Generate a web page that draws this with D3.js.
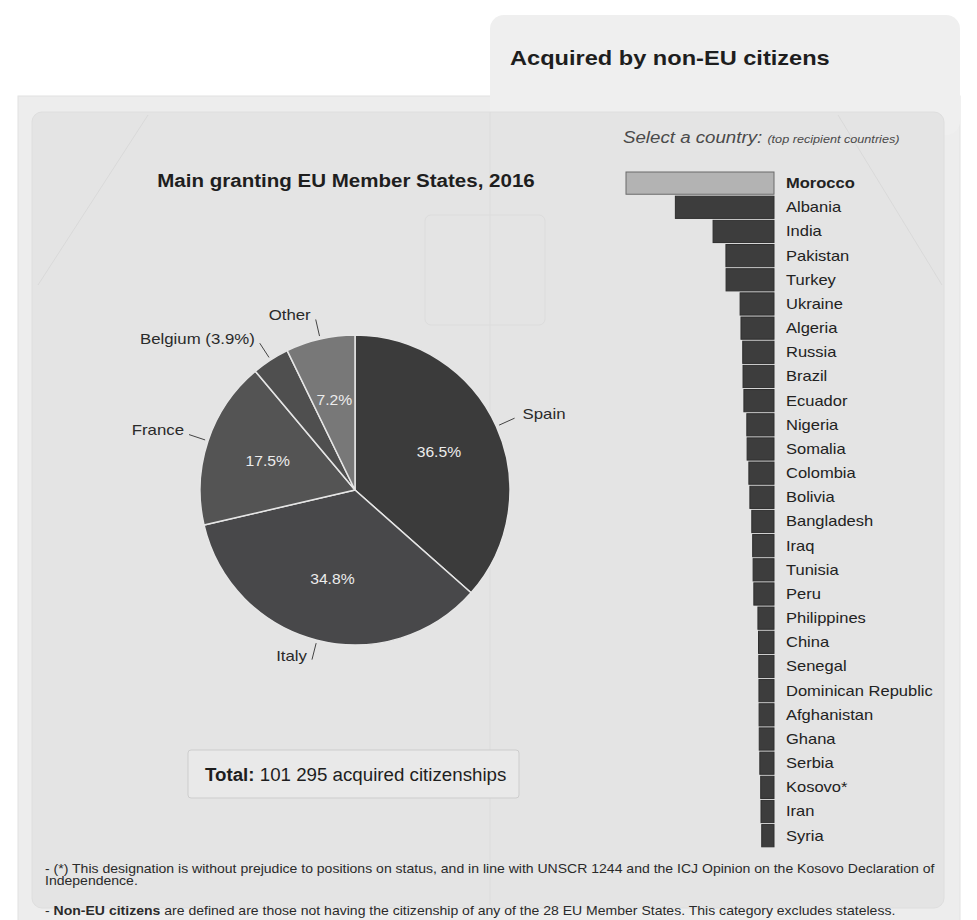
<!DOCTYPE html>
<html>
<head>
<meta charset="utf-8">
<script src="https://cdn.jsdelivr.net/npm/d3@7/dist/d3.min.js"></script>
<style>
  html, body { margin: 0; padding: 0; background: #ffffff; }
  svg { display: block; font-family: "Liberation Sans", Arial, Helvetica, sans-serif; }
</style>
</head>
<body>
<svg id="chart" width="977" height="920"></svg>
<script>
// Main granting EU Member States, 2016 (share of citizenships acquired, %)
const states = ["Spain", "Italy", "France", "Belgium", "Other"];
const stateShares = [36.5, 34.8, 17.5, 3.9, 7.2];
const stateOuterLabels = ["Spain", "Italy", "France", "Belgium (3.9%)", "Other"];
const stateInnerLabels = ["36.5%", "34.8%", "17.5%", "", "7.2%"];

// Top recipient countries (citizenships acquired, 2016)
const countries = ["Morocco", "Albania", "India", "Pakistan", "Turkey", "Ukraine", "Algeria",
  "Russia", "Brazil", "Ecuador", "Nigeria", "Somalia", "Colombia", "Bolivia", "Bangladesh",
  "Iraq", "Tunisia", "Peru", "Philippines", "China", "Senegal", "Dominican Republic",
  "Afghanistan", "Ghana", "Serbia", "Kosovo*", "Iran", "Syria"];
const acquired = [101295, 67500, 41700, 32900, 32800, 23200, 22600, 21400, 21200, 20600,
  18600, 18400, 17200, 16500, 15200, 14600, 14300, 13800, 11000, 10600, 10400, 10300,
  10200, 10100, 9700, 9100, 8900, 8400];
const selectedCountry = "Morocco";
const totalAcquired = "101 295";

// the typeface used here is set a little wider than Liberation Sans
const WIDE = 1.17;
const at = (x, y, s = WIDE) => `translate(${x},${y}) scale(${s},1)`;

const svg = d3.select("#chart");

// ---- page frame: tab, outer panel, inner panel ----
svg.append("rect").attr("x", 18).attr("y", 96).attr("width", 942).attr("height", 840)
  .attr("fill", "#ededed").attr("stroke", "#e2e2e2");
svg.append("rect").attr("x", 490).attr("y", 15).attr("width", 470).attr("height", 120)
  .attr("rx", 14).attr("fill", "#efefef");
svg.append("rect").attr("x", 32).attr("y", 112).attr("width", 912).attr("height", 796)
  .attr("rx", 10).attr("fill", "#e4e4e4").attr("stroke", "#dedede");

// faint background strokes
const deco = svg.append("g").attr("stroke", "#d9d9d9").attr("stroke-width", 1).attr("fill", "none");
deco.append("line").attr("x1", 148).attr("y1", 115).attr("x2", 38).attr("y2", 285);
deco.append("line").attr("x1", 838).attr("y1", 115).attr("x2", 942).attr("y2", 285);
deco.append("line").attr("x1", 490).attr("y1", 112).attr("x2", 490).attr("y2", 905).attr("stroke", "#dcdcdc");
deco.append("rect").attr("x", 425).attr("y", 215).attr("width", 120).attr("height", 110).attr("rx", 6)
  .attr("stroke", "#dcdcdc");

svg.append("text").attr("transform", at(510, 65, 1.18))
  .attr("font-size", 20).attr("font-weight", "bold").attr("fill", "#1e1e1e")
  .text("Acquired by non-EU citizens");

// ---- pie ----
svg.append("text").attr("transform", at(346, 187, 1.11)).attr("text-anchor", "middle")
  .attr("font-size", 18.5).attr("font-weight", "bold").attr("fill", "#1e1e1e")
  .text("Main granting EU Member States, 2016");

const cx = 355, cy = 490, R = 155;
const sliceColor = d3.scaleOrdinal().domain(states)
  .range(["#3b3b3b", "#48484a", "#545454", "#4f4f4f", "#787878"]);
const pieData = d3.pie().sort(null).value(d => d.v)(
  states.map((s, i) => ({ s, v: stateShares[i], out: stateOuterLabels[i], inn: stateInnerLabels[i] })));
const arc = d3.arc().innerRadius(0).outerRadius(R);
const pieG = svg.append("g").attr("transform", `translate(${cx},${cy})`);
pieG.selectAll("path.slice").data(pieData).join("path").attr("class", "slice")
  .attr("d", arc).attr("fill", d => sliceColor(d.data.s))
  .attr("stroke", "#e6e6e6").attr("stroke-width", 1.5);

const mid = d => (d.startAngle + d.endAngle) / 2;
const polar = (a, r) => [Math.sin(a) * r, -Math.cos(a) * r];

pieG.selectAll("text.inner").data(pieData.filter(d => d.data.inn)).join("text")
  .attr("class", "inner")
  .attr("transform", d => { const p = polar(mid(d), 92); return at(p[0], p[1], 1.12); })
  .attr("dy", "0.35em").attr("text-anchor", "middle")
  .attr("font-size", 14).attr("fill", "#ececec").text(d => d.data.inn);

pieG.selectAll("line.conn").data(pieData).join("line").attr("class", "conn")
  .attr("x1", d => polar(mid(d), R + 3)[0]).attr("y1", d => polar(mid(d), R + 3)[1])
  .attr("x2", d => polar(mid(d), R + 20)[0]).attr("y2", d => polar(mid(d), R + 20)[1])
  .attr("stroke", "#444").attr("stroke-width", 1);

pieG.selectAll("text.outer").data(pieData).join("text").attr("class", "outer")
  .attr("transform", d => {
    const p = polar(mid(d), R + 20);
    return at(mid(d) < Math.PI ? p[0] + 8 : p[0] - 5, p[1] - 4, 1.2);
  })
  .attr("dy", "0.35em")
  .attr("text-anchor", d => mid(d) < Math.PI ? "start" : "end")
  .attr("font-size", 14).attr("fill", "#2a2a2a").text(d => d.data.out);

// ---- total box ----
svg.append("rect").attr("x", 188).attr("y", 750).attr("width", 331).attr("height", 48)
  .attr("rx", 3).attr("fill", "#e9e9e9").attr("stroke", "#cdcdcd");
const tot = svg.append("text").attr("transform", at(205, 781, 1.04))
  .attr("font-size", 18).attr("fill", "#1e1e1e");
tot.append("tspan").attr("font-weight", "bold").text("Total:");
tot.append("tspan").text(` ${totalAcquired} acquired citizenships`);

// ---- bar list ----
const sel = svg.append("text").attr("transform", at(623, 143, 1.1))
  .attr("fill", "#4a4a4a").attr("font-style", "italic");
sel.append("tspan").attr("font-size", 17).text("Select a country: ");
sel.append("tspan").attr("font-size", 11.5).text("(top recipient countries)");

const barRight = 774;
const x = d3.scaleLinear().domain([0, d3.max(acquired)]).range([0, 148]);
const y = d3.scaleBand().domain(countries).range([172, 172 + 24.1 * countries.length]).paddingInner(0.08);
const rows = countries.map((c, i) => ({ c, v: acquired[i] }));

svg.append("g").selectAll("rect").data(rows).join("rect")
  .attr("x", d => barRight - x(d.v)).attr("y", d => y(d.c))
  .attr("width", d => x(d.v)).attr("height", y.bandwidth())
  .attr("fill", d => d.c === selectedCountry ? "#b3b3b3" : "#3d3d3d")
  .attr("stroke", d => d.c === selectedCountry ? "#6a6a6a" : "#2e2e2e").attr("stroke-width", 1);

svg.append("g").selectAll("text").data(rows).join("text")
  .attr("transform", d => at(786, y(d.c) + y.bandwidth() / 2, 1.18))
  .attr("dy", "0.35em")
  .attr("font-size", 14).attr("fill", "#222")
  .attr("font-weight", d => d.c === selectedCountry ? "bold" : "normal")
  .text(d => d.c);

// ---- footnotes ----
const notes = svg.append("g").attr("font-size", 12).attr("fill", "#2a2a2a");
notes.append("text").attr("transform", at(45, 873))
  .text("- (*) This designation is without prejudice to positions on status, and in line with UNSCR 1244 and the ICJ Opinion on the Kosovo Declaration of");
notes.append("text").attr("transform", at(45, 885)).text("Independence.");
const n2 = notes.append("text").attr("transform", at(45, 915));
n2.append("tspan").text("- ");
n2.append("tspan").attr("font-weight", "bold").text("Non-EU citizens");
n2.append("tspan").text(" are defined are those not having the citizenship of any of the 28 EU Member States. This category excludes stateless.");
</script>
</body>
</html>
